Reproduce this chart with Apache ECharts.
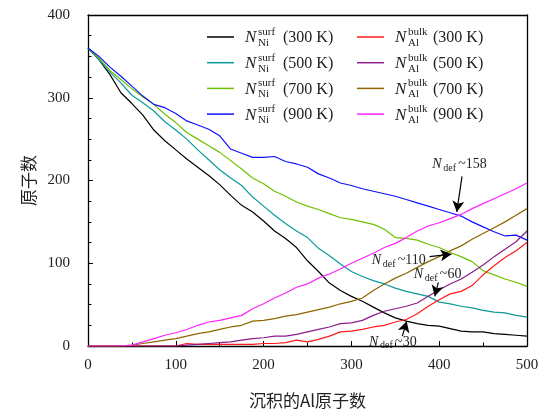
<!DOCTYPE html>
<html><head><meta charset="utf-8">
<script src="https://cdn.jsdelivr.net/npm/echarts@6/dist/echarts.min.js"></script>
<style>html,body{margin:0;padding:0;background:#fff}#c{width:552px;height:414px}</style>
</head><body><div id="c"></div>
<script>
const xs = [0,12.5,25,37.5,50,62.5,75,87.5,100,112.5,125,137.5,150,162.5,175,187.5,200,212.5,225,237.5,250,262.5,275,287.5,300,312.5,325,337.5,350,362.5,375,387.5,400,412.5,425,437.5,450,462.5,475,487.5,500];
const surf300 = [360,346,328,306,293,279,261,248,237,226,216,206,195,182,170,162,151,139,130,119,103,90,76,67,60,54,47,40,34,30,27,25,24,21,18,17,17,15,14,13,12];
const surf500 = [360,346,331,318,303,294,284,271,261,250,237,225,213,203,194,180,169,158,148,139,131,118,109,99,90,84,79,75,70,66,63,60,53,51,48,46,43,41,40,37,35];
const surf700 = [360,348,333,322,311,301,292,280,270,258,250,242,234,224,214,203,196,187,181,174,169,165,160,155,153,150,147,141,131,130,128,123,119,113,108,102,91,86,81,77,72];
const surf900 = [360,350,337,326,314,302,292,288,281,272,267,262,254,238,233,228,228,229,223,220,216,208,203,197,194,190,187,184,181,177,173,169,165,161,157,150,144,138,133,134,128];
const bulk300 = [0,0,0,0,0,0,0,0,0,3,2,2,2,2,2,2,3,3,4,7,5,8,12,17,18,20,23,25,29,32,39,48,56,63,66,73,86,97,107,115,125];
const bulk500 = [0,0,0,0,0,0,0,0,0,1,2,3,4,5,7,9,10,12,12,14,17,20,23,27,28,31,37,42,45,48,52,60,68,75,81,89,98,108,117,126,139];
const bulk700 = [0,0,0,0,1,3,5,7,9,12,15,17,20,23,25,30,31,33,36,38,41,44,47,51,54,58,67,75,82,88,95,102,108,115,121,129,136,143,150,158,166];
const bulk900 = [0,0,0,0,1,5,9,13,16,20,25,29,31,34,37,45,51,58,64,71,75,82,87,93,100,106,112,119,124,131,139,145,149,154,159,166,172,178,184,190,197];
const temps = ['300 K','500 K','700 K','900 K'];
const surfColors = ['#000000','#0b9a9a','#70c000','#1010ff'];
const bulkColors = ['#ff1a1a','#8b1a8b','#8f6400','#ff22ff'];
const surfData = [surf300, surf500, surf700, surf900];
const bulkData = [bulk300, bulk500, bulk700, bulk900];
// annotations: [label, arrow start [x,y], arrow end [x,y], text center [x,y]]
const annos = [
  ['158', [426,205], [420,162], [424,219]],
  ['110', [389,108], [414,111], [355,104]],
  ['60',  [399,77],  [395,60],  [403,87]],
  ['30',  [358,12],  [363,30],  [352,5]]
];

const serif = '"Liberation Serif","DejaVu Serif",serif';
const cjk = '"Noto Sans CJK SC",sans-serif';
const chart = echarts.init(document.getElementById('c'), null, {renderer:'canvas'});

function pairs(arr){ return xs.map((x,i)=>[x,arr[i]]); }
const series = [];
for (let i=0;i<4;i++){
  series.push({type:'line', name:'surf'+i, data:pairs(surfData[i]), showSymbol:false, symbol:'none',
    lineStyle:{color:surfColors[i], width:1.2}, itemStyle:{color:surfColors[i]}, silent:true});
}
for (let i=0;i<4;i++){
  series.push({type:'line', name:'bulk'+i, data:pairs(bulkData[i]), showSymbol:false, symbol:'none',
    lineStyle:{color:bulkColors[i], width:1.2}, itemStyle:{color:bulkColors[i]}, silent:true});
}
series[0].markLine = {
  silent:true, symbol:['none','arrow'], symbolSize:[9,11], animation:false,
  lineStyle:{color:'#000', width:1.2, type:'solid'}, label:{show:false},
  data: annos.map(a=>[{coord:a[1]},{coord:a[2]}])
};

const axisCommon = {
  type:'value',
  axisLine:{show:true, onZero:false, lineStyle:{color:'#000', width:1.3}},
  axisTick:{show:true, inside:true, length:5, lineStyle:{color:'#000', width:1}},
  minorTick:{show:true, length:3.5, lineStyle:{color:'#000', width:1}},
  splitLine:{show:false}
};

chart.setOption({
  animation:false,
  backgroundColor:'#fff',
  grid:{left:88, right:25, top:15, bottom:67},
  xAxis:[
    Object.assign({}, axisCommon, {min:0, max:500, interval:100, position:'bottom',
      minorTick:Object.assign({}, axisCommon.minorTick, {splitNumber:2}),
      axisLabel:{show:true, margin:12, fontFamily:serif, fontSize:15, color:'#222'},
      name:'沉积的Al原子数', nameLocation:'middle', nameGap:46,
      nameTextStyle:{fontFamily:cjk, fontSize:17, color:'#222'}}),
    Object.assign({}, axisCommon, {min:0, max:500, interval:100, position:'top',
      axisTick:{show:false}, minorTick:{show:false}, axisLabel:{show:false}})
  ],
  yAxis:[
    Object.assign({}, axisCommon, {min:0, max:400, interval:100, position:'left',
      minorTick:Object.assign({}, axisCommon.minorTick, {splitNumber:4}),
      axisLabel:{show:true, margin:18, fontFamily:serif, fontSize:15, color:'#222'},
      name:'原子数', nameLocation:'middle', nameGap:48, nameRotate:90,
      nameTextStyle:{fontFamily:cjk, fontSize:17, color:'#222'}}),
    Object.assign({}, axisCommon, {min:0, max:400, interval:100, position:'right',
      axisTick:{show:false}, minorTick:{show:false}, axisLabel:{show:false}})
  ],
  series: series
});

// legend built from graphic elements
const g = [];
for (let c=0;c<2;c++){
  for (let r=0;r<4;r++){
    const cy = 37 + r*25.7;
    const lx = c===0 ? 207 : 357;
    const tx = c===0 ? 245 : 395;
    const col = c===0 ? surfColors[r] : bulkColors[r];
    g.push({type:'line', silent:true, shape:{x1:lx, y1:cy, x2:lx+27, y2:cy}, style:{stroke:col, lineWidth:1.5}});
    g.push({type:'text', silent:true, x:tx, y:cy+1, style:{text:'N', font:'italic 17px '+serif, fill:'#222', verticalAlign:'middle'}});
    g.push({type:'text', silent:true, x:tx+13, y:cy-5, style:{text:c===0?'surf':'bulk', font:'11px '+serif, fill:'#222', verticalAlign:'middle'}});
    g.push({type:'text', silent:true, x:tx+13, y:cy+6, style:{text:c===0?'Ni':'Al', font:'11px '+serif, fill:'#222', verticalAlign:'middle'}});
    g.push({type:'text', silent:true, x:tx+38, y:cy+1, style:{text:'('+temps[r]+')', font:'16px '+serif, fill:'#222', verticalAlign:'middle'}});
  }
}
// annotation texts placed through the chart's scales
annos.forEach(a=>{
  const p = chart.convertToPixel({xAxisIndex:0, yAxisIndex:0}, a[3]);
  const x0 = p[0]-28, y0 = p[1];
  g.push({type:'text', silent:true, x:x0, y:y0, style:{text:'N', font:'italic 14px '+serif, fill:'#222', verticalAlign:'middle'}});
  g.push({type:'text', silent:true, x:x0+11, y:y0+4, style:{text:'def', font:'10px '+serif, fill:'#222', verticalAlign:'middle'}});
  g.push({type:'text', silent:true, x:x0+26, y:y0, style:{text:'~'+a[0], font:'14px '+serif, fill:'#222', verticalAlign:'middle'}});
});
chart.setOption({graphic:{elements:g}});
</script>
</body></html>
